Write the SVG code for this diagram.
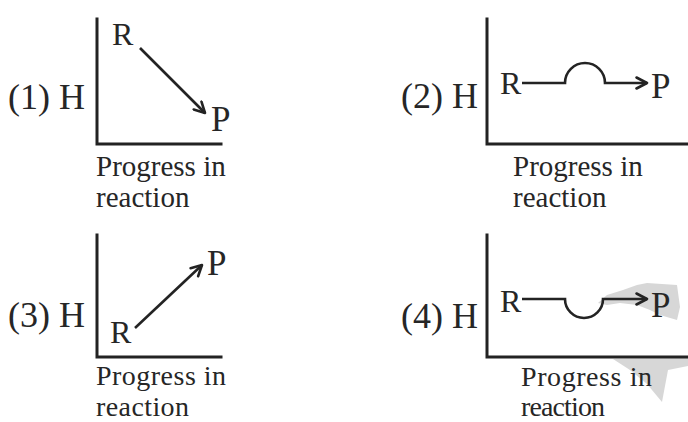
<svg xmlns="http://www.w3.org/2000/svg" width="688" height="422" viewBox="0 0 688 422">
<style>
.ax{fill:none;stroke:#232323;stroke-width:3;stroke-linecap:square}
.cn{fill:none;stroke:#232323;stroke-width:2.6}
.t{font-family:"Liberation Serif","Times New Roman",serif;fill:#262626}
.lab{font-size:36px}
.r{font-size:32px}
.p{font-size:35px}
.cap{font-size:29px}
.cap2{font-size:28px}
.blob{fill:#d7d7d7;stroke:none}
</style>
<defs>
<marker id="arr" viewBox="0 0 14 14" refX="12.5" refY="7" markerWidth="14" markerHeight="14" markerUnits="userSpaceOnUse" orient="auto">
<path d="M2,1.5 L12.5,7 L2,12.5" fill="none" stroke="#232323" stroke-width="2.6" stroke-linecap="round" stroke-linejoin="round"/>
</marker>
</defs>
<rect width="688" height="422" fill="#ffffff"/>
<g id="scan-marks">
<polygon class="blob" points="598,303 607,295 623,290 637,285 647,283 677,285 680,307 677,320 660,315 650,310 637,305 620,303 607,305"/>
<polygon class="blob" points="613,359 688,358 688,366 668,370 662,402 647,384 630,370"/>
</g>
<g id="panel1">
<path class="ax" d="M97,19 V144 H221"/>
<text class="t lab" x="8" y="109">(1) H</text>
<text class="t cap" x="96" y="176">Progress in</text>
<text class="t cap" x="96" y="207">reaction</text>
</g>
<g id="p1-R"><text class="t r" x="112" y="45">R</text></g>
<g id="p1-P"><text class="t p" x="211" y="131">P</text></g>
<g id="panel2">
<path class="ax" d="M487,19 V144 H688"/>
<text class="t lab" x="401" y="108">(2) H</text>
<text class="t cap" x="513" y="176">Progress in</text>
<text class="t cap" x="513" y="207">reaction</text>
</g>
<g id="p2-R"><text class="t r" x="500" y="94">R</text></g>
<g id="p2-P"><text class="t p" x="651" y="98">P</text></g>
<g id="panel3">
<path class="ax" d="M97,235 V357 H221"/>
<text class="t lab" x="8" y="327">(3) H</text>
<text class="t cap2" x="96" y="385" textLength="130">Progress in</text>
<text class="t cap2" x="96" y="416" textLength="93">reaction</text>
</g>
<g id="p3-R"><text class="t r" x="110" y="343">R</text></g>
<g id="p3-P"><text class="t p" x="207" y="275">P</text></g>
<g id="panel4">
<path class="ax" d="M487,235 V357 H688"/>
<text class="t lab" x="401" y="328">(4) H</text>
<text class="t cap2" x="521" y="386" textLength="131">Progress in</text>
<text class="t cap2" x="521" y="416" textLength="84">reaction</text>
</g>
<g id="p4-R"><text class="t r" x="500" y="312">R</text></g>
<g id="p4-P"><text class="t p" x="651" y="317">P</text></g>
<g id="connectors">
<line class="cn" x1="140" y1="48" x2="205" y2="113" marker-end="url(#arr)"/>
<path class="cn" d="M522,83 H565 A20,20 0 0 1 605,83 H647" marker-end="url(#arr)"/>
<line class="cn" x1="135" y1="328" x2="202" y2="265" marker-end="url(#arr)"/>
<path class="cn" d="M522,299 H565 A19,19 0 0 0 603,299 H647" marker-end="url(#arr)"/>
</g>
</svg>
